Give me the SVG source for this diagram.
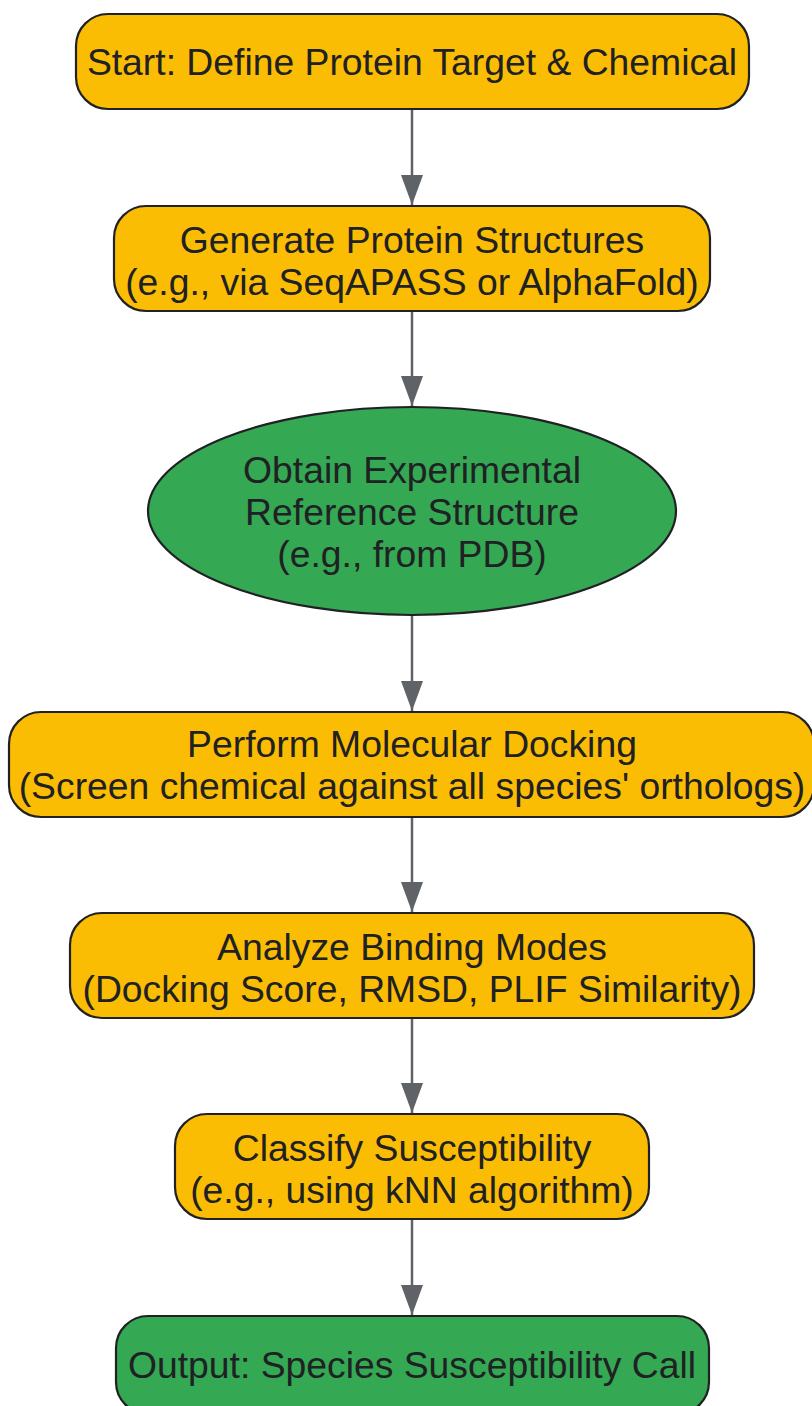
<svg xmlns="http://www.w3.org/2000/svg" width="812" height="1406" viewBox="0 0 812 1406">
<style>
.box{fill:#FBBC04;stroke:#202124;stroke-width:2.2}
.grn{fill:#34A853;stroke:#202124;stroke-width:2.2}
.t{font-family:"Liberation Sans",Arial,sans-serif;font-size:37.3px;fill:#202124;text-anchor:middle}
.edge{stroke:#5F6368;stroke-width:2.5;fill:none;marker-end:url(#arr)}
</style>
<defs>
<marker id="arr" viewBox="0 0 30 22" refX="30" refY="11" markerWidth="30" markerHeight="22" markerUnits="userSpaceOnUse" orient="auto">
<path d="M0,0 L30,11 L0,22 Z" fill="#5F6368"/>
</marker>
</defs>
<rect width="812" height="1406" fill="#FFFFFF"/>
<g id="connectors">
<path class="edge" d="M412,109 L412,205"/>
<path class="edge" d="M412,311 L412,406"/>
<path class="edge" d="M412,615 L412,711"/>
<path class="edge" d="M412,817 L412,912"/>
<path class="edge" d="M412,1018 L412,1113"/>
<path class="edge" d="M412,1219 L412,1315"/>
</g>
<g id="n1">
<rect class="box" x="76" y="14" width="673" height="95" rx="32" ry="32"/>
<text class="t" x="412" y="75">Start: Define Protein Target &amp; Chemical</text>
</g>
<g id="n2">
<rect class="box" x="114" y="206" width="596" height="105" rx="32" ry="32"/>
<text class="t" x="412" y="252.5">Generate Protein Structures</text>
<text class="t" x="412" y="294.5">(e.g., via SeqAPASS or AlphaFold)</text>
</g>
<g id="n3">
<ellipse class="grn" cx="412" cy="511" rx="264" ry="104"/>
<text class="t" x="412" y="483">Obtain Experimental</text>
<text class="t" x="412" y="525">Reference Structure</text>
<text class="t" x="412" y="567">(e.g., from PDB)</text>
</g>
<g id="n4">
<rect class="box" x="9" y="712" width="805" height="105" rx="32" ry="32"/>
<text class="t" x="412" y="757">Perform Molecular Docking</text>
<text class="t" x="412" y="799">(Screen chemical against all species' orthologs)</text>
</g>
<g id="n5">
<rect class="box" x="70" y="913" width="684" height="105" rx="32" ry="32"/>
<text class="t" x="412" y="959.5">Analyze Binding Modes</text>
<text class="t" x="412" y="1001.5">(Docking Score, RMSD, PLIF Similarity)</text>
</g>
<g id="n6">
<rect class="box" x="175" y="1114" width="474" height="105" rx="32" ry="32"/>
<text class="t" x="412" y="1160.5">Classify Susceptibility</text>
<text class="t" x="412" y="1202.5">(e.g., using kNN algorithm)</text>
</g>
<g id="n7">
<rect class="grn" x="116" y="1316" width="593" height="98" rx="32" ry="32"/>
<text class="t" x="412" y="1378">Output: Species Susceptibility Call</text>
</g>
</svg>
